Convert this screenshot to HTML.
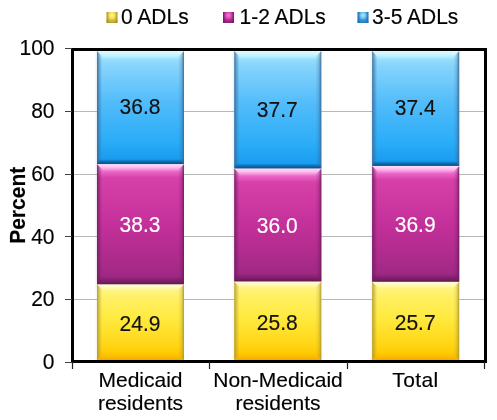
<!DOCTYPE html>
<html><head><meta charset="utf-8"><style>
html,body{margin:0;padding:0;background:#fff;}
svg{display:block;will-change:transform;}
text{font-family:"Liberation Sans",sans-serif;font-size:21px;fill:#000;stroke:#000;stroke-width:0.15px;}
</style></head><body>
<svg width="497" height="420" viewBox="0 0 497 420">
<defs><linearGradient id="s1" gradientUnits="userSpaceOnUse" x1="0" y1="284.31" x2="0" y2="360.00"><stop offset="0.0000" stop-color="#fffac8"/><stop offset="0.0264" stop-color="#fff8a8"/><stop offset="0.0793" stop-color="#fff480"/><stop offset="0.1850" stop-color="#fff064"/><stop offset="0.4500" stop-color="#ffea40"/><stop offset="0.8000" stop-color="#ffd616"/><stop offset="0.9207" stop-color="#ffc800"/><stop offset="0.9736" stop-color="#f8b600"/><stop offset="0.9999" stop-color="#f0ac00"/></linearGradient><linearGradient id="s2" gradientUnits="userSpaceOnUse" x1="0" y1="164.05" x2="0" y2="284.31"><stop offset="0.0000" stop-color="#ffd0f8"/><stop offset="0.0249" stop-color="#ffa8e8"/><stop offset="0.0665" stop-color="#e864c4"/><stop offset="0.1164" stop-color="#d640a8"/><stop offset="0.5000" stop-color="#c4309a"/><stop offset="0.8500" stop-color="#a82a88"/><stop offset="0.9335" stop-color="#9e2884"/><stop offset="0.9751" stop-color="#7a1e66"/><stop offset="0.9999" stop-color="#5e1a4c"/></linearGradient><linearGradient id="s3" gradientUnits="userSpaceOnUse" x1="0" y1="51.00" x2="0" y2="164.05"><stop offset="0.0000" stop-color="#d0faff"/><stop offset="0.0442" stop-color="#b8f0ff"/><stop offset="0.0796" stop-color="#94dcfc"/><stop offset="0.1327" stop-color="#86d4fc"/><stop offset="0.4500" stop-color="#52bcfa"/><stop offset="0.8000" stop-color="#2aacf8"/><stop offset="0.9558" stop-color="#1a9cf0"/><stop offset="0.9779" stop-color="#0c6cb0"/><stop offset="0.9999" stop-color="#08508a"/></linearGradient><linearGradient id="s4" gradientUnits="userSpaceOnUse" x1="0" y1="281.49" x2="0" y2="360.00"><stop offset="0.0000" stop-color="#fffac8"/><stop offset="0.0255" stop-color="#fff8a8"/><stop offset="0.0764" stop-color="#fff480"/><stop offset="0.1783" stop-color="#fff064"/><stop offset="0.4500" stop-color="#ffea40"/><stop offset="0.8000" stop-color="#ffd616"/><stop offset="0.9236" stop-color="#ffc800"/><stop offset="0.9745" stop-color="#f8b600"/><stop offset="0.9999" stop-color="#f0ac00"/></linearGradient><linearGradient id="s5" gradientUnits="userSpaceOnUse" x1="0" y1="168.45" x2="0" y2="281.49"><stop offset="0.0000" stop-color="#ffd0f8"/><stop offset="0.0265" stop-color="#ffa8e8"/><stop offset="0.0708" stop-color="#e864c4"/><stop offset="0.1238" stop-color="#d640a8"/><stop offset="0.5000" stop-color="#c4309a"/><stop offset="0.8500" stop-color="#a82a88"/><stop offset="0.9292" stop-color="#9e2884"/><stop offset="0.9735" stop-color="#7a1e66"/><stop offset="0.9999" stop-color="#5e1a4c"/></linearGradient><linearGradient id="s6" gradientUnits="userSpaceOnUse" x1="0" y1="51.00" x2="0" y2="168.45"><stop offset="0.0000" stop-color="#d0faff"/><stop offset="0.0426" stop-color="#b8f0ff"/><stop offset="0.0766" stop-color="#94dcfc"/><stop offset="0.1277" stop-color="#86d4fc"/><stop offset="0.4500" stop-color="#52bcfa"/><stop offset="0.8000" stop-color="#2aacf8"/><stop offset="0.9574" stop-color="#1a9cf0"/><stop offset="0.9787" stop-color="#0c6cb0"/><stop offset="0.9999" stop-color="#08508a"/></linearGradient><linearGradient id="s7" gradientUnits="userSpaceOnUse" x1="0" y1="281.80" x2="0" y2="360.00"><stop offset="0.0000" stop-color="#fffac8"/><stop offset="0.0256" stop-color="#fff8a8"/><stop offset="0.0767" stop-color="#fff480"/><stop offset="0.1790" stop-color="#fff064"/><stop offset="0.4500" stop-color="#ffea40"/><stop offset="0.8000" stop-color="#ffd616"/><stop offset="0.9233" stop-color="#ffc800"/><stop offset="0.9744" stop-color="#f8b600"/><stop offset="0.9999" stop-color="#f0ac00"/></linearGradient><linearGradient id="s8" gradientUnits="userSpaceOnUse" x1="0" y1="165.94" x2="0" y2="281.80"><stop offset="0.0000" stop-color="#ffd0f8"/><stop offset="0.0259" stop-color="#ffa8e8"/><stop offset="0.0690" stop-color="#e864c4"/><stop offset="0.1208" stop-color="#d640a8"/><stop offset="0.5000" stop-color="#c4309a"/><stop offset="0.8500" stop-color="#a82a88"/><stop offset="0.9310" stop-color="#9e2884"/><stop offset="0.9741" stop-color="#7a1e66"/><stop offset="0.9999" stop-color="#5e1a4c"/></linearGradient><linearGradient id="s9" gradientUnits="userSpaceOnUse" x1="0" y1="51.00" x2="0" y2="165.94"><stop offset="0.0000" stop-color="#d0faff"/><stop offset="0.0435" stop-color="#b8f0ff"/><stop offset="0.0783" stop-color="#94dcfc"/><stop offset="0.1305" stop-color="#86d4fc"/><stop offset="0.4500" stop-color="#52bcfa"/><stop offset="0.8000" stop-color="#2aacf8"/><stop offset="0.9565" stop-color="#1a9cf0"/><stop offset="0.9782" stop-color="#0c6cb0"/><stop offset="0.9999" stop-color="#08508a"/></linearGradient><linearGradient id="Tb" x1="0" y1="0" x2="0" y2="1"><stop offset="0" stop-color="#e0faff" stop-opacity="0.7"/><stop offset="0.5" stop-color="#e0faff" stop-opacity="0.35"/><stop offset="1" stop-color="#e0faff" stop-opacity="0"/></linearGradient><linearGradient id="Gb" x1="0" y1="0" x2="1" y2="0"><stop offset="0" stop-color="#3a6a98" stop-opacity="0"/><stop offset="1" stop-color="#3a6a98" stop-opacity="0.12"/></linearGradient><linearGradient id="Lb" x1="0" y1="0" x2="1" y2="0"><stop offset="0" stop-color="#3a6a98" stop-opacity="0.95"/><stop offset="0.4" stop-color="#3a6a98" stop-opacity="0.5"/><stop offset="1" stop-color="#3a6a98" stop-opacity="0"/></linearGradient><linearGradient id="Rb" x1="1" y1="0" x2="0" y2="0"><stop offset="0" stop-color="#3a6a98" stop-opacity="1"/><stop offset="0.2" stop-color="#3a6a98" stop-opacity="0.6"/><stop offset="0.5" stop-color="#3a6a98" stop-opacity="0.22"/><stop offset="1" stop-color="#3a6a98" stop-opacity="0"/></linearGradient><linearGradient id="Tp" x1="0" y1="0" x2="0" y2="1"><stop offset="0" stop-color="#ffe0fc" stop-opacity="0.7"/><stop offset="0.5" stop-color="#ffe0fc" stop-opacity="0.35"/><stop offset="1" stop-color="#ffe0fc" stop-opacity="0"/></linearGradient><linearGradient id="Gp" x1="0" y1="0" x2="1" y2="0"><stop offset="0" stop-color="#701c62" stop-opacity="0"/><stop offset="1" stop-color="#701c62" stop-opacity="0.12"/></linearGradient><linearGradient id="Lp" x1="0" y1="0" x2="1" y2="0"><stop offset="0" stop-color="#701c62" stop-opacity="0.95"/><stop offset="0.4" stop-color="#701c62" stop-opacity="0.5"/><stop offset="1" stop-color="#701c62" stop-opacity="0"/></linearGradient><linearGradient id="Rp" x1="1" y1="0" x2="0" y2="0"><stop offset="0" stop-color="#701c62" stop-opacity="1"/><stop offset="0.2" stop-color="#701c62" stop-opacity="0.6"/><stop offset="0.5" stop-color="#701c62" stop-opacity="0.22"/><stop offset="1" stop-color="#701c62" stop-opacity="0"/></linearGradient><linearGradient id="Ty" x1="0" y1="0" x2="0" y2="1"><stop offset="0" stop-color="#fffce0" stop-opacity="0.7"/><stop offset="0.5" stop-color="#fffce0" stop-opacity="0.35"/><stop offset="1" stop-color="#fffce0" stop-opacity="0"/></linearGradient><linearGradient id="Gy" x1="0" y1="0" x2="1" y2="0"><stop offset="0" stop-color="#b09a30" stop-opacity="0"/><stop offset="1" stop-color="#b09a30" stop-opacity="0.12"/></linearGradient><linearGradient id="Ly" x1="0" y1="0" x2="1" y2="0"><stop offset="0" stop-color="#b09a30" stop-opacity="0.95"/><stop offset="0.4" stop-color="#b09a30" stop-opacity="0.5"/><stop offset="1" stop-color="#b09a30" stop-opacity="0"/></linearGradient><linearGradient id="Ry" x1="1" y1="0" x2="0" y2="0"><stop offset="0" stop-color="#b09a30" stop-opacity="1"/><stop offset="0.2" stop-color="#b09a30" stop-opacity="0.6"/><stop offset="0.5" stop-color="#b09a30" stop-opacity="0.22"/><stop offset="1" stop-color="#b09a30" stop-opacity="0"/></linearGradient><linearGradient id="My" x1="0" y1="0" x2="1" y2="0"><stop offset="0" stop-color="#a89028"/><stop offset="0.3" stop-color="#e8d040"/><stop offset="0.7" stop-color="#e8d040"/><stop offset="1" stop-color="#a89028"/></linearGradient><radialGradient id="Ny" cx="0.5" cy="0.3" r="0.45"><stop offset="0" stop-color="#fff890" stop-opacity="1"/><stop offset="1" stop-color="#fff890" stop-opacity="0"/></radialGradient><linearGradient id="Oy" x1="0" y1="0" x2="0" y2="1"><stop offset="0" stop-color="#a08818" stop-opacity="0"/><stop offset="0.6" stop-color="#a08818" stop-opacity="0"/><stop offset="1" stop-color="#a08818" stop-opacity="0.7"/></linearGradient><linearGradient id="Mp" x1="0" y1="0" x2="1" y2="0"><stop offset="0" stop-color="#7a1a6a"/><stop offset="0.3" stop-color="#c03098"/><stop offset="0.7" stop-color="#c03098"/><stop offset="1" stop-color="#7a1a6a"/></linearGradient><radialGradient id="Np" cx="0.5" cy="0.3" r="0.45"><stop offset="0" stop-color="#f478d8" stop-opacity="1"/><stop offset="1" stop-color="#f478d8" stop-opacity="0"/></radialGradient><linearGradient id="Op" x1="0" y1="0" x2="0" y2="1"><stop offset="0" stop-color="#701860" stop-opacity="0"/><stop offset="0.6" stop-color="#701860" stop-opacity="0"/><stop offset="1" stop-color="#701860" stop-opacity="0.7"/></linearGradient><linearGradient id="Mb" x1="0" y1="0" x2="1" y2="0"><stop offset="0" stop-color="#1a68a8"/><stop offset="0.3" stop-color="#3aa0e0"/><stop offset="0.7" stop-color="#3aa0e0"/><stop offset="1" stop-color="#1a68a8"/></linearGradient><radialGradient id="Nb" cx="0.5" cy="0.3" r="0.45"><stop offset="0" stop-color="#b0ecff" stop-opacity="1"/><stop offset="1" stop-color="#b0ecff" stop-opacity="0"/></radialGradient><linearGradient id="Ob" x1="0" y1="0" x2="0" y2="1"><stop offset="0" stop-color="#1a70b0" stop-opacity="0"/><stop offset="0.6" stop-color="#1a70b0" stop-opacity="0"/><stop offset="1" stop-color="#1a70b0" stop-opacity="0.7"/></linearGradient></defs>
<rect width="497" height="420" fill="#fff"/>
<line x1="72" y1="299.5" x2="485" y2="299.5" stroke="#b8b8b8" stroke-width="1"/><line x1="72" y1="236.5" x2="485" y2="236.5" stroke="#b8b8b8" stroke-width="1"/><line x1="72" y1="174.5" x2="485" y2="174.5" stroke="#b8b8b8" stroke-width="1"/><line x1="72" y1="111.5" x2="485" y2="111.5" stroke="#b8b8b8" stroke-width="1"/>
<rect x="97" y="284.31" width="87.0" height="75.69" fill="url(#s1)"/><rect x="94.5" y="284.31" width="2.5" height="75.69" fill="url(#Gy)"/><polygon points="97,284.31 102,289.31 102,355.00 97,360.00" fill="url(#Ly)"/><polygon points="184.0,284.31 178.0,290.31 178.0,354.00 184.0,360.00" fill="url(#Ry)"/><polygon points="97,284.31 184.0,284.31 177.0,291.31 104,291.31" fill="url(#Ty)"/><rect x="97" y="164.05" width="87.0" height="120.26" fill="url(#s2)"/><rect x="94.5" y="164.05" width="2.5" height="120.26" fill="url(#Gp)"/><polygon points="97,164.05 102,169.05 102,279.31 97,284.31" fill="url(#Lp)"/><polygon points="184.0,164.05 178.0,170.05 178.0,278.31 184.0,284.31" fill="url(#Rp)"/><polygon points="97,164.05 184.0,164.05 177.0,171.05 104,171.05" fill="url(#Tp)"/><rect x="97" y="48.00" width="87.0" height="116.05" fill="url(#s3)"/><rect x="94.5" y="51.00" width="2.5" height="113.05" fill="url(#Gb)"/><polygon points="97,51.00 102,56.00 102,159.05 97,164.05" fill="url(#Lb)"/><polygon points="184.0,51.00 178.0,57.00 178.0,158.05 184.0,164.05" fill="url(#Rb)"/><polygon points="97,51.00 184.0,51.00 177.0,58.00 104,58.00" fill="url(#Tb)"/><rect x="234.3" y="281.49" width="87.0" height="78.51" fill="url(#s4)"/><rect x="231.8" y="281.49" width="2.5" height="78.51" fill="url(#Gy)"/><polygon points="234.3,281.49 239.3,286.49 239.3,355.00 234.3,360.00" fill="url(#Ly)"/><polygon points="321.3,281.49 315.3,287.49 315.3,354.00 321.3,360.00" fill="url(#Ry)"/><polygon points="234.3,281.49 321.3,281.49 314.3,288.49 241.3,288.49" fill="url(#Ty)"/><rect x="234.3" y="168.45" width="87.0" height="113.04" fill="url(#s5)"/><rect x="231.8" y="168.45" width="2.5" height="113.04" fill="url(#Gp)"/><polygon points="234.3,168.45 239.3,173.45 239.3,276.49 234.3,281.49" fill="url(#Lp)"/><polygon points="321.3,168.45 315.3,174.45 315.3,275.49 321.3,281.49" fill="url(#Rp)"/><polygon points="234.3,168.45 321.3,168.45 314.3,175.45 241.3,175.45" fill="url(#Tp)"/><rect x="234.3" y="48.00" width="87.0" height="120.45" fill="url(#s6)"/><rect x="231.8" y="51.00" width="2.5" height="117.45" fill="url(#Gb)"/><polygon points="234.3,51.00 239.3,56.00 239.3,163.45 234.3,168.45" fill="url(#Lb)"/><polygon points="321.3,51.00 315.3,57.00 315.3,162.45 321.3,168.45" fill="url(#Rb)"/><polygon points="234.3,51.00 321.3,51.00 314.3,58.00 241.3,58.00" fill="url(#Tb)"/><rect x="372.2" y="281.80" width="87.0" height="78.20" fill="url(#s7)"/><rect x="369.7" y="281.80" width="2.5" height="78.20" fill="url(#Gy)"/><polygon points="372.2,281.80 377.2,286.80 377.2,355.00 372.2,360.00" fill="url(#Ly)"/><polygon points="459.2,281.80 453.2,287.80 453.2,354.00 459.2,360.00" fill="url(#Ry)"/><polygon points="372.2,281.80 459.2,281.80 452.2,288.80 379.2,288.80" fill="url(#Ty)"/><rect x="372.2" y="165.94" width="87.0" height="115.87" fill="url(#s8)"/><rect x="369.7" y="165.94" width="2.5" height="115.87" fill="url(#Gp)"/><polygon points="372.2,165.94 377.2,170.94 377.2,276.80 372.2,281.80" fill="url(#Lp)"/><polygon points="459.2,165.94 453.2,171.94 453.2,275.80 459.2,281.80" fill="url(#Rp)"/><polygon points="372.2,165.94 459.2,165.94 452.2,172.94 379.2,172.94" fill="url(#Tp)"/><rect x="372.2" y="48.00" width="87.0" height="117.94" fill="url(#s9)"/><rect x="369.7" y="51.00" width="2.5" height="114.94" fill="url(#Gb)"/><polygon points="372.2,51.00 377.2,56.00 377.2,160.94 372.2,165.94" fill="url(#Lb)"/><polygon points="459.2,51.00 453.2,57.00 453.2,159.94 459.2,165.94" fill="url(#Rb)"/><polygon points="372.2,51.00 459.2,51.00 452.2,58.00 379.2,58.00" fill="url(#Tb)"/>
<text transform="translate(140.0,331.2) scale(1,1.06)" style="fill:#111;stroke:#111" text-anchor="middle">24.9</text><text transform="translate(140.0,232.0) scale(1,1.06)" style="fill:#fff;stroke:#fff" text-anchor="middle">38.3</text><text transform="translate(140.0,114.1) scale(1,1.06)" style="fill:#111;stroke:#111" text-anchor="middle">36.8</text><text transform="translate(277.3,329.8) scale(1,1.06)" style="fill:#111;stroke:#111" text-anchor="middle">25.8</text><text transform="translate(277.3,232.8) scale(1,1.06)" style="fill:#fff;stroke:#fff" text-anchor="middle">36.0</text><text transform="translate(277.3,117.1) scale(1,1.06)" style="fill:#111;stroke:#111" text-anchor="middle">37.7</text><text transform="translate(415.2,330.0) scale(1,1.06)" style="fill:#111;stroke:#111" text-anchor="middle">25.7</text><text transform="translate(415.2,231.7) scale(1,1.06)" style="fill:#fff;stroke:#fff" text-anchor="middle">36.9</text><text transform="translate(415.2,115.0) scale(1,1.06)" style="fill:#111;stroke:#111" text-anchor="middle">37.4</text>
<rect x="72.5" y="49.5" width="413" height="312" fill="none" stroke="#000" stroke-width="3"/>
<line x1="65" y1="362.5" x2="72" y2="362.5" stroke="#404040" stroke-width="1"/><text transform="translate(54.5,369.2) scale(1,1.06)" text-anchor="end">0</text><line x1="65" y1="299.5" x2="72" y2="299.5" stroke="#404040" stroke-width="1"/><text transform="translate(54.5,306.4) scale(1,1.06)" text-anchor="end">20</text><line x1="65" y1="236.5" x2="72" y2="236.5" stroke="#404040" stroke-width="1"/><text transform="translate(54.5,243.6) scale(1,1.06)" text-anchor="end">40</text><line x1="65" y1="174.5" x2="72" y2="174.5" stroke="#404040" stroke-width="1"/><text transform="translate(54.5,180.8) scale(1,1.06)" text-anchor="end">60</text><line x1="65" y1="111.5" x2="72" y2="111.5" stroke="#404040" stroke-width="1"/><text transform="translate(54.5,118.0) scale(1,1.06)" text-anchor="end">80</text><line x1="65" y1="48.5" x2="72" y2="48.5" stroke="#404040" stroke-width="1"/><text transform="translate(54.5,55.2) scale(1,1.06)" text-anchor="end">100</text><line x1="72.5" y1="362" x2="72.5" y2="369" stroke="#202020" stroke-width="1.2"/><line x1="209.5" y1="362" x2="209.5" y2="369" stroke="#202020" stroke-width="1.2"/><line x1="347.5" y1="362" x2="347.5" y2="369" stroke="#202020" stroke-width="1.2"/><line x1="484.5" y1="362" x2="484.5" y2="369" stroke="#202020" stroke-width="1.2"/>
<text x="140.5" y="387.0" text-anchor="middle">Medicaid</text><text x="140.5" y="409.6" text-anchor="middle">residents</text><text x="278" y="387.0" text-anchor="middle">Non-Medicaid</text><text x="278" y="409.6" text-anchor="middle">residents</text><text x="415.37" y="387.0" text-anchor="middle" style="letter-spacing:0.35px">Total</text>
<text transform="translate(24.9,205.3) rotate(-90) scale(1,1.05)" text-anchor="middle" style="font-weight:bold">Percent</text>
<rect x="106.5" y="12" width="11" height="11" fill="url(#My)"/><rect x="106.5" y="12" width="11" height="11" fill="url(#Ny)"/><rect x="106.5" y="12" width="11" height="11" fill="url(#Oy)"/><text transform="translate(121,24.4) scale(1,1.05)">0 ADLs</text><rect x="223" y="12" width="11" height="11" fill="url(#Mp)"/><rect x="223" y="12" width="11" height="11" fill="url(#Np)"/><rect x="223" y="12" width="11" height="11" fill="url(#Op)"/><text transform="translate(239.5,24.4) scale(1,1.05)">1-2 ADLs</text><rect x="357.5" y="12" width="11" height="11" fill="url(#Mb)"/><rect x="357.5" y="12" width="11" height="11" fill="url(#Nb)"/><rect x="357.5" y="12" width="11" height="11" fill="url(#Ob)"/><text transform="translate(372,24.4) scale(1,1.05)">3-5 ADLs</text>
</svg>
</body></html>
